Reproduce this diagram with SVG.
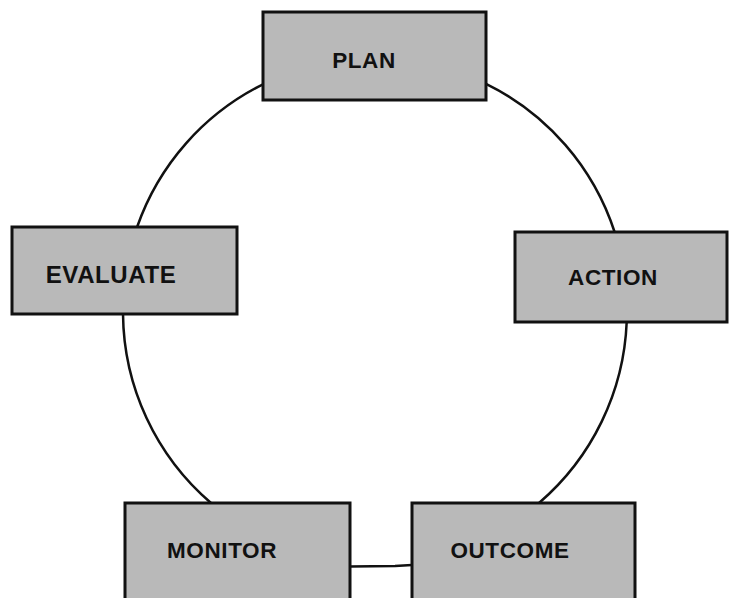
<svg xmlns="http://www.w3.org/2000/svg" width="729" height="598" viewBox="0 0 729 598">
<style>
.box{fill:#b9b9b9;stroke:#111;stroke-width:3}
.lbl{font-family:"Liberation Sans",Arial,sans-serif;font-weight:bold;font-size:22.5px;fill:#111;text-anchor:middle;letter-spacing:0.6px}
.conn{fill:none;stroke:#111;stroke-width:2.5}
</style>
<rect width="729" height="598" fill="#fff"/>
<g id="connectors">
<path class="conn" d="M 263,84.3 A 252 252 0 0 0 137.1,227"/>
<path class="conn" d="M 486,83.8 A 252 252 0 0 1 614.6,232"/>
<path class="conn" d="M 626.7,322 A 252 252 0 0 1 539,503"/>
<path class="conn" d="M 123,314 A 252 252 0 0 0 211,503"/>
<path class="conn" d="M 350,566.5 L 395,566 L 412,565"/>
</g>
<g id="node-plan">
<rect class="box" x="263" y="12" width="223" height="88"/>
<text class="lbl" x="364" y="68">PLAN</text>
</g>
<g id="node-evaluate">
<rect class="box" x="12" y="227" width="225" height="87"/>
<text class="lbl" x="111" y="283" style="font-size:24px">EVALUATE</text>
</g>
<g id="node-action">
<rect class="box" x="515" y="232" width="212" height="90"/>
<text class="lbl" x="613" y="285">ACTION</text>
</g>
<g id="node-monitor">
<rect class="box" x="125" y="503" width="225" height="100"/>
<text class="lbl" x="222" y="558">MONITOR</text>
</g>
<g id="node-outcome">
<rect class="box" x="412" y="503" width="223" height="100"/>
<text class="lbl" x="510" y="558">OUTCOME</text>
</g>
</svg>
